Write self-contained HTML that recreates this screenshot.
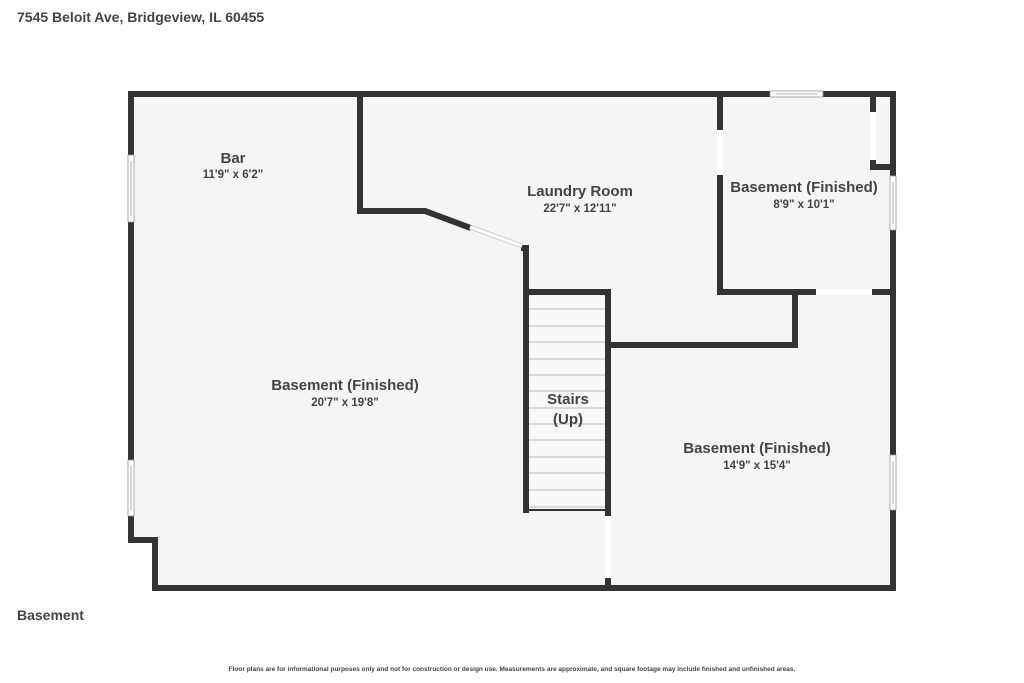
<!DOCTYPE html>
<html><head><meta charset="utf-8"><style>
html,body{margin:0;padding:0;background:#fff;}
svg{display:block;}
text{font-family:"Liberation Sans",sans-serif;fill:#444;font-weight:bold;}
</style></head><body>
<svg width="1024" height="683" viewBox="0 0 1024 683" xmlns="http://www.w3.org/2000/svg">
<rect width="1024" height="683" fill="#fff"/>
<text x="17" y="22" font-size="14">7545 Beloit Ave, Bridgeview, IL 60455</text>
<text x="17" y="620" font-size="14">Basement</text>
<text x="512" y="671" font-size="6.5" text-anchor="middle">Floor plans are for informational purposes only and not for construction or design use. Measurements are approximate, and square footage may include finished and unfinished areas.</text>
<!-- floor -->
<polygon points="131,94 893,94 893,588 155,588 155,540 131,540" fill="#f5f5f5"/>
<!-- stairs -->
<rect x="526" y="292" width="82" height="218" fill="#f8f8f8"/>
<g stroke="#bbb" stroke-width="1">
<line x1="529" y1="309" x2="605" y2="309"/><line x1="529" y1="326" x2="605" y2="326"/>
<line x1="529" y1="342" x2="605" y2="342"/><line x1="529" y1="359" x2="605" y2="359"/>
<line x1="529" y1="375" x2="605" y2="375"/><line x1="529" y1="391" x2="605" y2="391"/>
<line x1="529" y1="408" x2="605" y2="408"/><line x1="529" y1="424" x2="605" y2="424"/>
<line x1="529" y1="440" x2="605" y2="440"/><line x1="529" y1="457" x2="605" y2="457"/>
<line x1="529" y1="473" x2="605" y2="473"/><line x1="529" y1="490" x2="605" y2="490"/>
<line x1="529" y1="507" x2="605" y2="507"/>
</g>
<line x1="526" y1="510" x2="608" y2="510" stroke="#333" stroke-width="2"/>
<g stroke="#333" stroke-width="6" fill="none" stroke-linejoin="miter" stroke-linecap="square">
<polyline points="131,540 131,94 893,94 893,588 155,588 155,540 131,540"/>
<polyline points="360,94 360,211 425,211 468,227"/>
<polyline points="524,248 526,248 526,510"/>
<polyline points="526,292 608,292 608,515"/>
<line x1="608" y1="578" x2="608" y2="588"/>
<polyline points="608,345 795,345 795,292"/>
<polyline points="720,94 720,292 815,292"/>
<line x1="872" y1="292" x2="893" y2="292"/>
<polyline points="873,94 873,167 893,167"/>
</g>
<!-- doors / openings -->
<line x1="470" y1="227" x2="522" y2="246" stroke="#ccc" stroke-width="5"/>
<line x1="470" y1="227" x2="522" y2="246" stroke="#fff" stroke-width="3"/>
<rect x="717" y="130" width="6" height="45" fill="#fff"/>
<rect x="816" y="289" width="56" height="6" fill="#fff"/>
<rect x="605" y="516" width="6" height="62" fill="#fff"/>
<rect x="870" y="112" width="6" height="48" fill="#fff"/>
<!-- windows -->
<g fill="#fff" stroke="#999" stroke-width="0.8">
<rect x="128" y="155" width="6" height="67"/>
<rect x="128" y="460" width="6" height="56"/>
<rect x="890" y="176" width="6" height="54"/>
<rect x="890" y="455" width="6" height="55"/>
<rect x="770" y="91" width="53" height="6"/>
</g>
<g stroke="#999" stroke-width="0.8">
<line x1="131" y1="161" x2="131" y2="216"/>
<line x1="131" y1="466" x2="131" y2="510"/>
<line x1="893" y1="182" x2="893" y2="224"/>
<line x1="893" y1="461" x2="893" y2="504"/>
<line x1="776" y1="94" x2="817" y2="94"/>
</g>
<!-- labels -->
<g text-anchor="middle">
<text x="233" y="163" font-size="15">Bar</text>
<text x="233" y="178" font-size="11.5">11'9" x 6'2"</text>
<text x="580" y="196" font-size="15">Laundry Room</text>
<text x="580" y="212" font-size="11.5">22'7" x 12'11"</text>
<text x="804" y="192" font-size="15">Basement (Finished)</text>
<text x="804" y="208" font-size="11.5">8'9" x 10'1"</text>
<text x="345" y="390" font-size="15">Basement (Finished)</text>
<text x="345" y="406" font-size="11.5">20'7" x 19'8"</text>
<text x="568" y="404" font-size="15">Stairs</text>
<text x="568" y="424" font-size="15">(Up)</text>
<text x="757" y="453" font-size="15">Basement (Finished)</text>
<text x="757" y="469" font-size="11.5">14'9" x 15'4"</text>
</g>
</svg>
</body></html>
